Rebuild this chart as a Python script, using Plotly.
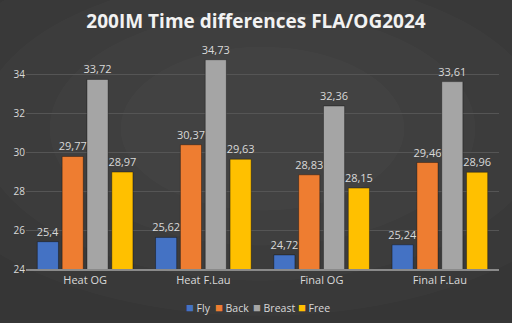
import plotly.graph_objects as go

categories = ["Heat OG", "Heat F.Lau", "Final OG", "Final F.Lau"]
fly = [25.4, 25.62, 24.72, 25.24]
back = [29.77, 30.37, 28.83, 29.46]
breast = [33.72, 34.73, 32.36, 33.61]
free = [28.97, 29.63, 28.15, 28.96]
y_ticks = [24, 26, 28, 30, 32, 34]

series = [("Fly", fly, "#4472C4"), ("Back", back, "#EE7D31"),
          ("Breast", breast, "#A5A5A5"), ("Free", free, "#FFC000")]

fig = go.Figure()
for name, vals, col in series:
    fig.add_trace(go.Bar(
        x=categories, y=vals, name=name,
        marker=dict(color=col, line=dict(color="rgba(0,0,0,0.35)", width=1)),
        text=[str(v).replace(".", ",") for v in vals],
        textposition="outside", cliponaxis=False, constraintext="none",
        textfont=dict(color="#D9D9D9", size=11, family="Open Sans"),
    ))

# subtle radial background glow
shapes = []
for i, (rx, ry) in enumerate([(0.75, 0.8), (0.6, 0.65), (0.45, 0.5), (0.3, 0.35)]):
    shapes.append(dict(type="circle", xref="paper", yref="paper", layer="below",
                       x0=0.5 - rx, x1=0.5 + rx, y0=0.6 - ry, y1=0.6 + ry,
                       fillcolor="rgba(255,255,255,0.018)", line=dict(width=0)))

# compact legend as annotations
legend_pos = [0.334, 0.396, 0.476, 0.571]
annotations = []
for (name, vals, col), xp in zip(series, legend_pos):
    annotations.append(dict(
        xref="paper", yref="paper", x=xp, y=-0.162, xanchor="left", yanchor="middle",
        showarrow=False,
        text=f"<span style='color:{col};font-size:13px'>■</span> {name}",
        font=dict(color="#D9D9D9", size=10.5, family="Open Sans")))

fig.update_layout(
    width=512, height=323,
    margin=dict(l=26, r=13, t=35, b=54),
    paper_bgcolor="#363636", plot_bgcolor="rgba(0,0,0,0)",
    barmode="group", bargap=0.16, bargroupgap=0.15,
    title=dict(text="<b>200IM Time differences FLA/OG2024</b>", x=0.5, xanchor="center",
               y=0.935, yanchor="middle",
               font=dict(color="#F2F2F2", size=19, family="Open Sans")),
    showlegend=False,
    shapes=shapes, annotations=annotations,
    font=dict(family="Open Sans", color="#D9D9D9"),
)
fig.update_yaxes(range=[24, 36], tickvals=y_ticks, showgrid=True, gridcolor="#555555",
                 gridwidth=1, zeroline=False, tickfont=dict(size=10, color="#D9D9D9"),
                 showline=False, ticks="")
fig.update_xaxes(showline=True, linecolor="#8a8a8a", linewidth=1.5,
                 tickfont=dict(size=11, color="#D9D9D9"), ticks="")

fig.write_html("out.html")
